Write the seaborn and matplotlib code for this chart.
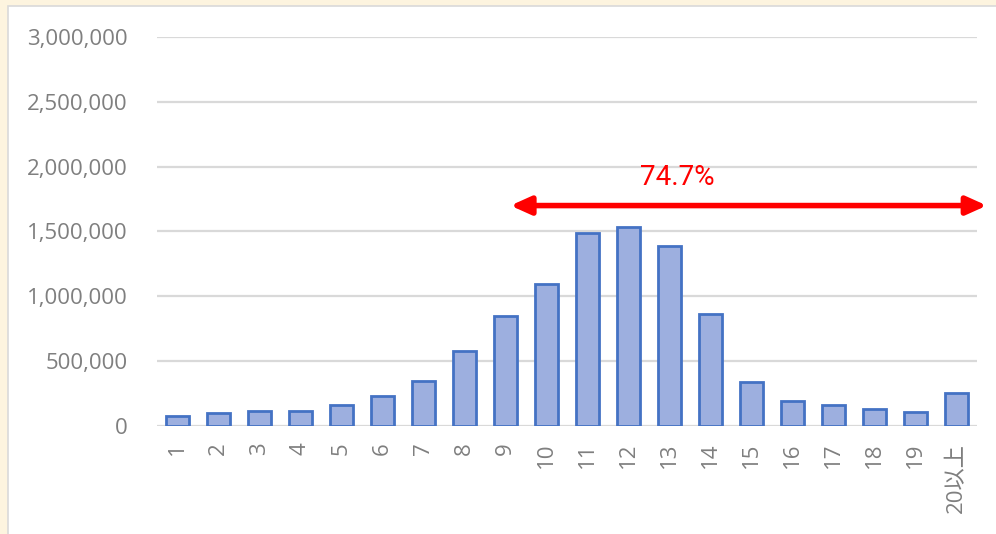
import matplotlib
matplotlib.use("Agg")
import matplotlib.pyplot as plt
import matplotlib.patches as mpatches
import matplotlib.ticker as mticker
from matplotlib.colors import LinearSegmentedColormap
import seaborn as sns
import numpy as np

# data
categories = ["1", "2", "3", "4", "5", "6", "7", "8", "9", "10",
              "11", "12", "13", "14", "15", "16", "17", "18", "19", "20以上"]
counts = [75000, 100000, 112000, 112000, 162000, 233000, 348000, 578000, 848000, 1098000,
          1492000, 1533000, 1388000, 867000, 340000, 193000, 162000, 131000, 110000, 256000]
yticks = [0, 500000, 1000000, 1500000, 2000000, 2500000, 3000000]
share_label = "74.7%"
share_from = 8.12   # arrow span in category units (starts at "9", runs past the last bar)
share_to = 19.74
share_level = 1700000

sns.set_style("white")
plt.rcParams['font.family'] = ['Open Sans', 'Noto Sans CJK JP', 'DejaVu Sans']

fig = plt.figure(figsize=(9.96, 5.34), dpi=100)
fig.patch.set_facecolor("#FDF4DF")
# white chart panel with thin grey border
panel = mpatches.Rectangle((8 / 996, -0.05), 1.0, (534 - 5.5) / 534 + 0.05,
                           transform=fig.transFigure, facecolor="white",
                           edgecolor="#D9D9D9", linewidth=1.2, zorder=-10)
fig.patches.append(panel)

ax = fig.add_axes([157 / 996, 1 - 426 / 534, (977 - 157) / 996, (426 - 37) / 534])
ax.set_facecolor("none")

sns.barplot(x=categories, y=counts, ax=ax, color="#9DAFDF", saturation=1,
            edgecolor="#4472C4", linewidth=2, width=0.54, zorder=3)

ax.set_ylim(0, 3000000)
ax.set_xlim(-0.5, 19.5)

# light-to-darker vertical gradient inside each bar
grad = LinearSegmentedColormap.from_list("bar", ["#8DA3D9", "#ABBAE3"])
for bar in ax.patches:
    x0, y0 = bar.get_x(), bar.get_y()
    w, h = bar.get_width(), bar.get_height()
    img = ax.imshow(np.linspace(0, 1, 64).reshape(-1, 1), cmap=grad, origin="lower",
                    extent=[x0, x0 + w, y0, y0 + h], aspect="auto", zorder=2.9)
    img.set_clip_path(bar)
ax.set_xlim(-0.5, 19.5)
ax.set_ylim(0, 3000000)

ax.set_yticks(yticks)
ax.yaxis.set_major_formatter(mticker.FuncFormatter(lambda v, p: f"{int(v):,}"))
ax.grid(axis="y", color="#D9D9D9", linewidth=1.6, zorder=0)
ax.grid(axis="x", visible=False)
for s in ax.spines.values():
    s.set_visible(False)

ax.tick_params(axis="y", length=0, pad=21, labelsize=16, labelcolor="#7F7F7F")
ax.tick_params(axis="x", length=0, pad=12, labelsize=16, labelcolor="#7F7F7F",
               labelrotation=90)
for lab in ax.get_xticklabels():
    lab.set_va("top")
ax.set_xlabel("")
ax.set_ylabel("")

# red double-headed arrow with share label
ax.annotate("", xy=(share_from, share_level), xytext=(share_to, share_level),
            arrowprops=dict(arrowstyle="<|-|>,head_length=1.0,head_width=0.45",
                            mutation_scale=12, color="red", lw=4,
                            shrinkA=0, shrinkB=0),
            annotation_clip=False, zorder=5)
ax.text(12.2, 1913000, share_label, color="red", fontsize=20,
        family=['Roboto', 'DejaVu Sans'],
        ha="center", va="center", zorder=5)

fig.savefig("out.png", dpi=100, facecolor=fig.get_facecolor())
